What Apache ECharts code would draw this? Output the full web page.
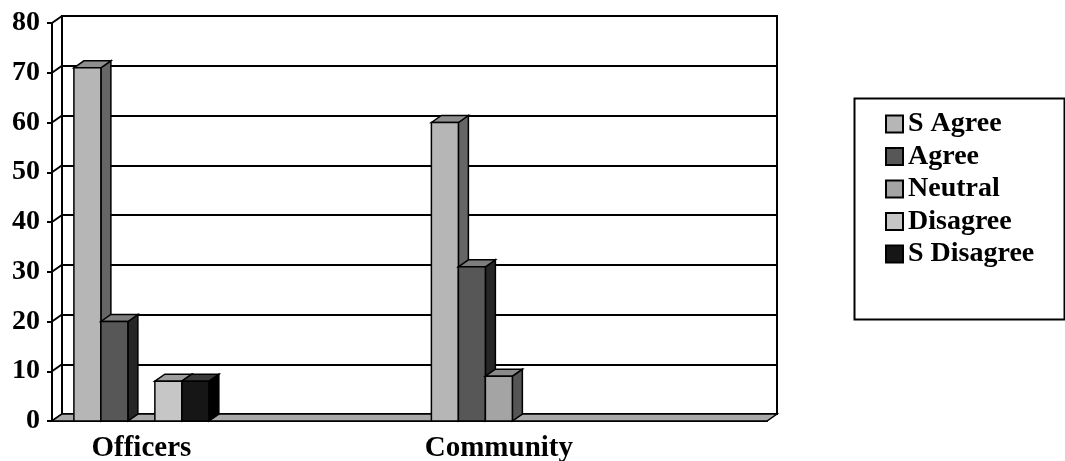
<!DOCTYPE html>
<html>
<head>
<meta charset="utf-8">
<script src="https://cdn.jsdelivr.net/npm/echarts@6/dist/echarts.min.js"></script>
<style>
  html, body { margin: 0; padding: 0; background: #fff; }
  #chart { width: 1065px; height: 461px; }
</style>
</head>
<body>
<div id="chart"></div>
<script>
// 数据
const categories = ['Officers', '', 'Community', ''];
const seriesNames = ['S Agree', 'Agree', 'Neutral', 'Disagree', 'S Disagree'];
const sAgree = [71, null, 60, null];
const agree = [20, null, 31, null];
const neutral = [0, null, 9, null];
const disagree = [8, null, 0, null];
const sDisagree = [8, null, 0, null];
const yTicks = [0, 10, 20, 30, 40, 50, 60, 70, 80];

// 灰度配色（正面 / 侧面 / 顶面）
const shades = [
    { front: '#b6b6b6', side: '#666666', top: '#8e8e8e' },
    { front: '#575757', side: '#262626', top: '#7e7e7e' },
    { front: '#a4a4a4', side: '#555555', top: '#8a8a8a' },
    { front: '#c6c6c6', side: '#7a7a7a', top: '#9e9e9e' },
    { front: '#161616', side: '#000000', top: '#3a3a3a' }
];

const DX = 10, DY = -7;   // 3D 深度偏移
const FONT = "'Liberation Serif', 'Times New Roman', serif";

const chart = echarts.init(document.getElementById('chart'));

// 3D 柱子
function barRenderer(idx) {
    const c = shades[idx];
    return function (params, api) {
        const val = api.value(1);
        if (val == null || isNaN(val) || val <= 0) return;
        const cat = api.value(0);
        const base = api.coord([cat, 0]);
        const top = api.coord([cat, val]);
        const band = api.size([1, 0])[0];
        const w = band * 0.151;
        const x0 = base[0] + (idx - 2.5) * w;
        const stroke = { stroke: '#000', lineWidth: 1.5 };
        return {
            type: 'group',
            children: [
                {
                    type: 'polygon',
                    shape: { points: [[x0 + w, top[1]], [x0 + w + DX, top[1] + DY], [x0 + w + DX, base[1] + DY], [x0 + w, base[1]]] },
                    style: Object.assign({ fill: c.side }, stroke)
                },
                {
                    type: 'polygon',
                    shape: { points: [[x0, top[1]], [x0 + DX, top[1] + DY], [x0 + w + DX, top[1] + DY], [x0 + w, top[1]]] },
                    style: Object.assign({ fill: c.top }, stroke)
                },
                {
                    type: 'rect',
                    shape: { x: x0, y: top[1], width: w, height: base[1] - top[1] },
                    style: Object.assign({ fill: c.front }, stroke)
                }
            ]
        };
    };
}

const valueSets = [sAgree, agree, neutral, disagree, sDisagree];
const barSeries = valueSets.map((vals, i) => ({
    name: seriesNames[i],
    type: 'custom',
    xAxisIndex: 0,
    yAxisIndex: 0,
    z: 5,
    itemStyle: { color: shades[i].front, borderColor: '#000', borderWidth: 1.5 },
    renderItem: barRenderer(i),
    data: vals.map((v, k) => [k, v])
}));

// 侧墙斜线
const sideWall = {
    type: 'custom',
    xAxisIndex: 0,
    yAxisIndex: 0,
    z: 3,
    silent: true,
    renderItem: function (params, api) {
        const p = api.coord([0, api.value(0)]);
        const x = params.coordSys.x;
        return {
            type: 'line',
            shape: { x1: x, y1: p[1], x2: x + DX, y2: p[1] + DY },
            style: { stroke: '#000', lineWidth: 2 }
        };
    },
    data: yTicks.map(v => [v])
};

// 底面
const floor = {
    type: 'custom',
    xAxisIndex: 0,
    yAxisIndex: 0,
    z: 4,
    silent: true,
    renderItem: function (params, api) {
        const cs = params.coordSys;
        const y = api.coord([0, 0])[1];
        return {
            type: 'polygon',
            shape: { points: [[cs.x, y], [cs.x + cs.width, y], [cs.x + cs.width + DX, y + DY], [cs.x + DX, y + DY]] },
            style: { fill: '#a9a9a9', stroke: '#000', lineWidth: 1.5 }
        };
    },
    data: [[0]]
};

const option = {
    backgroundColor: '#fff',
    animation: false,
    textStyle: { fontFamily: FONT },
    grid: [
        // 前平面
        { left: 52, top: 23, width: 715, height: 398, outerBoundsMode: 'none' },
        // 背墙
        { left: 62, top: 16, width: 715, height: 398, outerBoundsMode: 'none', show: true, borderColor: '#000', borderWidth: 2, backgroundColor: '#fff', z: 0 }
    ],
    legend: {
        orient: 'vertical',
        left: 885,
        top: 110,
        padding: 0,
        itemGap: 4.5,
        itemWidth: 17,
        itemHeight: 17,
        icon: 'rect',
        data: seriesNames,
        textStyle: { fontFamily: FONT, fontSize: 28, fontWeight: 'bold', color: '#000', lineHeight: 28 }
    },
    xAxis: [
        {
            type: 'category',
            gridIndex: 0,
            data: categories,
            axisLine: { lineStyle: { color: '#000', width: 2 } },
            axisTick: { length: 8, lineStyle: { color: '#000', width: 2 } },
            axisLabel: { fontFamily: FONT, fontSize: 29, fontWeight: 'bold', color: '#000', margin: 13, interval: 0 },
            splitLine: { show: false }
        },
        {
            type: 'category',
            gridIndex: 1,
            data: categories,
            show: false
        }
    ],
    yAxis: [
        {
            type: 'value',
            gridIndex: 0,
            min: 0,
            max: 80,
            interval: 10,
            axisLine: { show: true, lineStyle: { color: '#000', width: 2 } },
            axisTick: { show: true, length: 5, lineStyle: { color: '#000', width: 2 } },
            axisLabel: { fontFamily: FONT, fontSize: 28, fontWeight: 'bold', color: '#000', margin: 12 },
            splitLine: { show: false }
        },
        {
            type: 'value',
            gridIndex: 1,
            min: 0,
            max: 80,
            interval: 10,
            axisLine: { show: true, lineStyle: { color: '#000', width: 2 } },
            axisTick: { show: false },
            axisLabel: { show: false },
            splitLine: { show: true, lineStyle: { color: '#000', width: 2 } }
        }
    ],
    graphic: [
        {
            type: 'rect',
            left: 852,
            top: 96,
            shape: { width: 210, height: 221 },
            style: { fill: 'none', stroke: '#000', lineWidth: 2 },
            z: 1
        }
    ],
    series: [sideWall, floor].concat(barSeries)
};

chart.setOption(option);
</script>
</body>
</html>
